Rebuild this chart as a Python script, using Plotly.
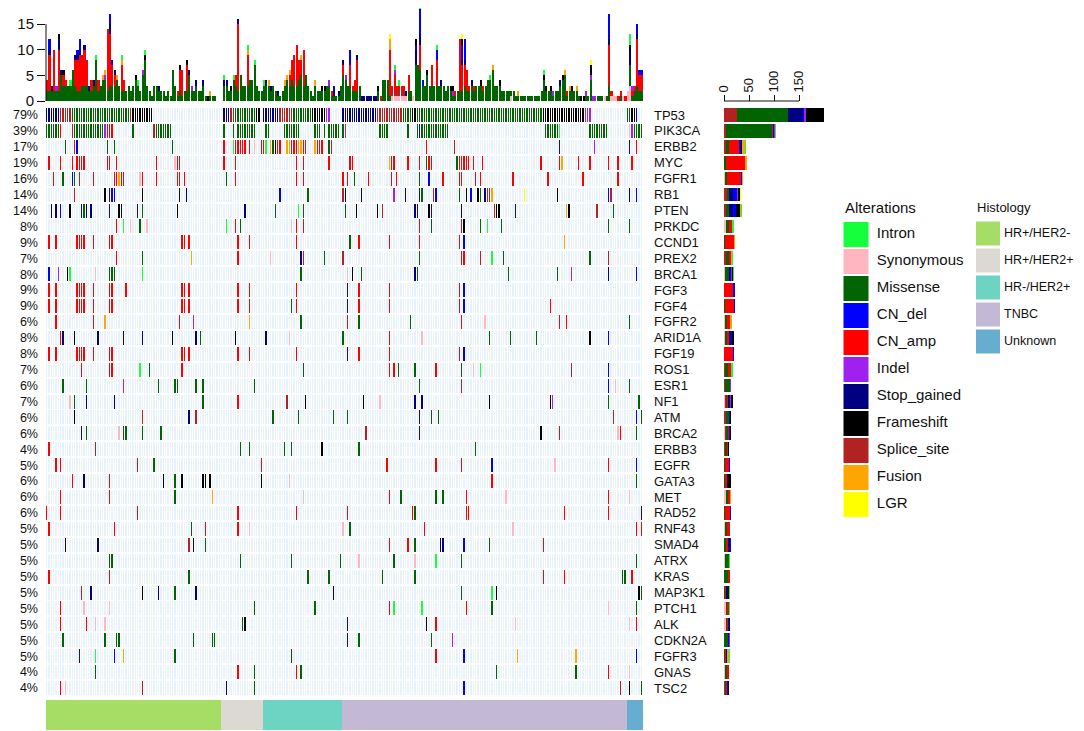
import re
import numpy as np
import plotly.graph_objects as go

# the page puts the figure 8px in from the top-left corner of the 1084x731 window
OFF = 8
W, H = 1084 - OFF, 731 - OFF
N_SAMPLES = 256

# alteration types: code letter, legend name, colour
ALT_CODES = "ISMDANTFPUL"
ALT_NAMES = ["Intron", "Synonymous", "Missense", "CN_del", "CN_amp", "Indel",
             "Stop_gained", "Frameshift", "Splice_site", "Fusion", "LGR"]
ALT_COLORS = ["#14FF3C", "#FFB6C1", "#006400", "#0000FF", "#FF0000", "#A020F0",
              "#000080", "#000000", "#B22222", "#FFA500", "#FFFF00"]
STACK_ORDER = "SPMATDNFUIL"
BG_CELL = "#E8F2FA"

HIST_NAMES = ["HR+/HER2-", "HR+/HER2+", "HR-/HER2+", "TNBC", "Unknown"]
HIST_SIZES = [75, 18, 34, 122, 7]
HIST_COLORS = ["#A6DD64", "#DCD9D3", "#6DD4C3", "#C3B9D7", "#67ADD0"]

GENES = ["TP53", "PIK3CA", "ERBB2", "MYC", "FGFR1", "RB1", "PTEN", "PRKDC", "CCND1",
         "PREX2", "BRCA1", "FGF3", "FGF4", "FGFR2", "ARID1A", "FGF19", "ROS1", "ESR1",
         "NF1", "ATM", "BRCA2", "ERBB3", "EGFR", "GATA3", "MET", "RAD52", "RNF43",
         "SMAD4", "ATRX", "KRAS", "MAP3K1", "PTCH1", "ALK", "CDKN2A", "FGFR3", "GNAS", "TSC2"]
PCT_LABELS = ["79%", "39%", "17%", "19%", "16%", "14%", "14%", "8%", "9%", "7%", "8%",
              "9%", "9%", "6%", "8%", "8%", "7%", "6%", "7%", "6%", "6%", "4%", "5%",
              "6%", "6%", "6%", "5%", "5%", "5%", "5%", "5%", "5%", "5%", "5%", "5%", "4%", "4%"]

# per gene: "sample[-sample]codes" tokens
GENE_ALTS = [
    "0-5T 6-10P 11-35M 36P 37-45F 76-78T 79-80P 81-89M 90-91F 93-99T 100-105P 106-113M "
    "114-119F 120-121N 127-141T 142-152P 153-156M 157-158F 159-212M 213-230F 231-233N "
    "249-250M 251-252F 253D",
    "0-5M 6A 11P 12-24M 25N 26-28A 37M 46P 47-53M 76M 80M 82-89M 94-95M 102-106M 107-108M "
    "115-117M 119M 121-125M 127M 128N 143-146M 155M 159M 160D 161-172M 214-219M 220I "
    "233-240M 250S 251N 252-255M",
    "8M 12P 13D 26M 29M 54M 76A 80I 81-85A 87A 89S 92-93A 94I 96U 97M 98F 99-100A 103-104U "
    "105-107A 108-109U 110-111A 115U 116-118A 121M 122A 163A 175P 220D 235N 250D 253A",
    "1A 6A 11A 13-16A 26-27A 30A 47A 55S 56-57A 76A 81A 107A 110A 121A 130-131A 147U "
    "148-149A 155A 160A 163M 164-165A 176M 177-181A 183A 187A 212A 220A 221U 228A 233A "
    "241A 245A 251A",
    "3A 7M 11D 12M 14A 20A 29-30A 31U 32-33A 40S 41A 47A 56-57A 59A 77M 81A 107A 110A 127A "
    "129A 132M 138A 148A 150A 160M 164D 170A 177-178A 184A 186A 200A 215A 230A 245A",
    "12P 25F 27-29D 41F 57T 60T 100D 112M 127P 128T 135T 149N 154T 160D 161M 166P 167D "
    "177M 180F 182D 185F 186M 188T 189-190P 191U 205L 219F 241D 242P 250T 253D",
    "2T 4T 6D 10F 15D 16M 17T 19T 27D 31F 32T 39D 41M 56F 85T 98M 108I 110M 128M 133F 142F "
    "144P 158T 159D 164F 165D 178T 192P 193-194F 201D 223U 224F 236P 243M",
    "30A 33I 36S 40M 43S 77I 81A 83M 105S 107A 110A 160A 165M 178A 179F 186M 189I 195M 241M 250M",
    "1A 4A 13-16A 20A 27-28A 58-59A 61A 82A 87A 107A 130M 134A 147A 160A 177A 179D 222U",
    "30A 41M 62U 82A 96S 109T 110A 119M 127P 160M 178-179A 186P 191I 196M 233M 241P",
    "1D 5N 9F 10I 21S 27-29M 41I 109M 129S 131F 135M 158T 159M 198M 219M 225N 241T 253D",
    "1A 4A 13-16A 20A 27-28A 34A 58-59A 61A 82A 87A 107A 129D 134A 147A 177A 179D",
    "1A 4A 13-16A 20A 27-28A 58-59A 61A 82A 87A 105M 107A 129D 134A 147A 177A 179D 216A",
    "4A 20A 25U 57A 63N 87U 109M 129A 134M 156M 178A 188S 220A 223A 250M",
    "6A 7T 12F 22T 33T 41T 54F 64T 66M 81F 94T 104S 127M 147A 161S 190M 199M 210M 233F 241D",
    "1A 4A 13-16A 20A 27-28A 58-59A 61A 82A 87A 107A 129D 134A 147A 177A 179D",
    "15A 27-28A 40I 44M 58A 110M 147A 149A 151M 158M 167A 178M 183S 186I 225P 241D",
    "7M 17M 33N 48M 55-56M 64M 67M 89M 160M 178P 241D 244S 250M",
    "10S 12M 17T 29T 67M 82A 103P 111F 136F 143S 158T 161T 190F 216F 217N 241M 254M",
    "12F 41P 61T 64P 97M 108M 123M 129M 160D 165M 168M 243P 253D 255M",
    "15D 17M 31S 33-34M 41M 49M 137P 160D 212F 220A 245S 246A 253M",
    "1A 21P 83M 87M 102M 105M 118F 134M 184M",
    "4A 6A 39A 46M 92A 146A 167A 178A 191D 218S 241A 253D",
    "11A 16T 27A 50F 55M 58F 67-68F 70F 92F 104S 191A 253M",
    "6A 27A 55M 71U 110S 147A 152M 167M 170M 180A 197S 241A 250S",
    "0A 6A 39A 82A 107A 129A 157A 158M 180-181A 222A 241A 255D",
    "1A 29A 62M 68A 82A 87S 127S 130M 162A 200S 253A 255A",
    "8T 22T 61P 63T 68M 147A 155A 158M 169T 170T 179D 190M 213A",
    "27-28M 83M 105M 126M 134S 149M 158S 167I 178M 253M",
    "1A 27A 61M 112M 121M 144M 158M 213A 222A 247-248M 251A",
    "15A 19T 41F 48T 55M 64T 123T 178M 191I 193F 254F 255M",
    "6A 16S 27S 89M 115M 147A 149I 161I 180A 191M 241S 253M",
    "6A 17A 21S 25S 84M 85F 129D 163F 167A 201S 250S 253A",
    "7M 25M 30-31M 63M 71-72M 129D 134M 165M 174N",
    "14D 21I 29D 33U 55M 105M 167A 179D 202U 227U 253D",
    "21M 82A 89M 107A 109M 193M 227M 241A 250S",
    "6A 8S 41P 77T 89M 179D 246P 250F 255M",
]

# per sample: one letter per counted variant (top bar), "-" = none
SAMPLE_VARIANTS = """
MMAA MMAAAAAAATDD MMT MMAAAAAAAA MMN MMAAAAAAAATTF MMMMMT MMMAAF MMMA MMM
MMMI MMMMMM MMMAAAAAT MMAAAAAATD MMAAAAAAATDD MMMAAAAAA MMMAAAAAAAT MMMAAAAA MMT MMAA
MMMT MMMMMMMMI MMAA MMM MMMMU MMMMNU MMAAAAAAAAAAAA MMMAAAAAAAAAATTDD MMMAAAAD MMMAAT
MMMMU MMM MMAAAAAIU MMAA MM MMM MM MMM MMMMF MMMI
MM MMMMMN MMMMMMMMFI MMM MM M MMM MMM MMT MM
MM M MM M MMMMMM MMM MA MMAAAAF MAAAAA MM
MMAAAAAF MMMMMT MMN MM MMMT MM MM MMMT M F
MU M M - - - MMMTI MMMT MM MMF
MMMMI MMMAA MMAAAAAAAAAAAAAT MMMMM MMM MMM MMMAAAAAAUI MMMM MMMM MMMMMMMI
MMM MM MM MMMI MMMT MMMU MMT MMM MM MT
M MM MMMU MMMMU MMMAAU MMMMAAAA MMMAAAAAA MMMAAAAAAAA MMMMAAAA MMMMMAAAU
MMMAAAAAAA MMMMM MMM MM M MMMU MM MM MMF MMF
MMM MMMN MA MDT M MT MMM MMMMMAAT MMMMN MMM
MMMAAAADDD MMA MMAA MMAAAAAAT MMM T T T T T
T T MMF P MMMM MMMM MMMM MAAAAAAAAAUUL SPA SPAAANI
SPA SPAI SPA SPA ST MMAAA MM S MMMMMMMDTTTF MMMMMMM
MMMMMMAAAAATTDDDDDI MMMD MMM MMMMMF MMM MMMAAAA MMM MMMAAAAADDI MMM MMMT
MMM MM MMM MMF MFN MA MM MMAAAAAAAAAA MMAAAAADDDTFL MMMAAAADDDDT
MMAAAA MMA MMMT MMA MMM MMM MMMF MMA MMM MMMM
MMMMI MMMMMMU MMM MMM MMMF MM MM MM MM MS
MM M MU M M M M M M M
M M MM MMMMFI MMF MM MMF MN MM MM
MMMT MMMMF MMMMMU MA MMU MMF MM MMU M F
F MN M MMMMNFFL N N M M M S
M MMMAAAAAAAATDDDDD SA S S A MA S A SS
SSSMMMMTTTFII MAN MMA MMMAAAAAAAAATDD MMAAAD MMAAAD
""".split()
SAMPLE_VARIANTS = [s.replace("-", "") for s in SAMPLE_VARIANTS]
assert len(SAMPLE_VARIANTS) == N_SAMPLES, len(SAMPLE_VARIANTS)


def parse_alts(spec):
    cells = {}
    for tok in spec.split():
        m = re.match(r"(\d+)(?:-(\d+))?([A-Z]+)$", tok)
        a = int(m.group(1))
        b = int(m.group(2) or a)
        for s in range(a, b + 1):
            cells.setdefault(s, []).extend(m.group(3))
    return cells


gene_cells = [parse_alts(s) for s in GENE_ALTS]
code_idx = {c: i + 1 for i, c in enumerate(ALT_CODES)}
n_genes = len(GENES)

# each gene row = top half, bottom half (split cell for 2 hits), white gap
z_rows, y_edges = [], [-0.44]
for g, cells in enumerate(gene_cells):
    top, bot = [], []
    for s in range(N_SAMPLES):
        codes = cells.get(s, [])
        if not codes:
            top.append(0); bot.append(0)
        else:
            top.append(code_idx[codes[0]])
            bot.append(code_idx[codes[-1]])
    z_rows += [top, bot, [np.nan] * N_SAMPLES]
    y_edges += [g, g + 0.44, g + 0.56]


def discrete_scale(colors):
    n = len(colors)
    scale = []
    for i, c in enumerate(colors):
        scale += [[i / n, c], [(i + 1) / n, c]]
    return scale


def px(x):  # window pixel -> paper x
    return (x - OFF) / W


def py(y):  # window pixel -> paper y
    return min(1.0, 1 - (y - OFF) / H)


font = "Liberation Sans, Arial, sans-serif"
fig = go.Figure()

# main oncoprint grid
fig.add_trace(go.Heatmap(
    x=list(range(N_SAMPLES)), y=y_edges, z=z_rows,
    colorscale=discrete_scale([BG_CELL] + ALT_COLORS),
    zmin=-0.5, zmax=len(ALT_CODES) + 0.5, showscale=False,
    xgap=1, hoverinfo="skip", xaxis="x", yaxis="y",
))
# invisible trace so the right-hand gene axis is drawn
fig.add_trace(go.Scatter(x=[0] * n_genes, y=list(range(n_genes)), mode="markers",
                         marker=dict(opacity=0), hoverinfo="skip", showlegend=False,
                         xaxis="x", yaxis="y2"))

# top: variants per sample
for c in STACK_ORDER:
    k = ALT_CODES.index(c)
    fig.add_trace(go.Bar(
        x=list(range(N_SAMPLES)), y=[s.count(c) for s in SAMPLE_VARIANTS],
        marker=dict(color=ALT_COLORS[k], line_width=0), name=ALT_NAMES[k],
        showlegend=False, hoverinfo="skip", xaxis="x2", yaxis="y3",
    ))

# right: variants per gene
for c in STACK_ORDER:
    k = ALT_CODES.index(c)
    counts = [sum(v.count(c) for v in cells.values()) for cells in gene_cells]
    fig.add_trace(go.Bar(
        y=list(range(n_genes)), x=counts, orientation="h", width=0.86,
        marker=dict(color=ALT_COLORS[k], line_width=0), name=ALT_NAMES[k],
        showlegend=False, hoverinfo="skip", xaxis="x3", yaxis="y4",
    ))

# bottom: histology of each sample
hist_of_sample = np.repeat(np.arange(len(HIST_SIZES)), HIST_SIZES)
fig.add_trace(go.Heatmap(
    x=list(range(N_SAMPLES)), y=[0], z=[hist_of_sample.tolist()],
    colorscale=discrete_scale(HIST_COLORS), zmin=-0.5, zmax=len(HIST_COLORS) - 0.5,
    showscale=False, hoverinfo="skip", xaxis="x4", yaxis="y5",
))

# legend boxes (window pixel coordinates inside the legend area)
fig.add_trace(go.Scatter(
    x=[856] * len(ALT_NAMES), y=[234.5 + 27 * i for i in range(len(ALT_NAMES))],
    mode="markers+text", text=[" " + t for t in ALT_NAMES], textposition="middle right",
    marker=dict(symbol="square", size=25, color=ALT_COLORS, line=dict(width=0)),
    textfont=dict(size=15, color="#111", family=font),
    hoverinfo="skip", showlegend=False, xaxis="x5", yaxis="y6", cliponaxis=False,
))
fig.add_trace(go.Scatter(
    x=[988] * len(HIST_NAMES), y=[233.5 + 27 * i for i in range(len(HIST_NAMES))],
    mode="markers+text", text=HIST_NAMES, textposition="middle right",
    marker=dict(symbol="square", size=24, color=HIST_COLORS, line=dict(width=0)),
    textfont=dict(size=12.5, color="#111", family=font),
    hoverinfo="skip", showlegend=False, xaxis="x5", yaxis="y6", cliponaxis=False,
))

grid_x = [px(46), px(643)]
grid_y = [py(696), py(107)]
xr = [-0.5, N_SAMPLES - 0.5]
yr = [n_genes - 0.5, -0.5]
hid = dict(visible=False, showgrid=False, zeroline=False, automargin=False)
top_axis_y = py(101)
bar_top = 8  # window y of top edge of the figure
top_range = (101 - bar_top) / 5.13

fig.update_layout(
    width=W, height=H, margin=dict(l=0, r=0, t=0, b=0, autoexpand=False),
    paper_bgcolor="white", plot_bgcolor="white",
    font=dict(family=font, color="#111"),
    barmode="stack", bargap=0.12,
    xaxis=dict(domain=grid_x, range=xr, anchor="y", **hid),
    yaxis=dict(domain=grid_y, range=yr, anchor="x", tickmode="array",
               tickvals=list(range(n_genes)), ticktext=PCT_LABELS, ticks="",
               showgrid=False, zeroline=False, showline=False, automargin=False,
               ticklabelstandoff=7, tickfont=dict(size=12.5)),
    yaxis2=dict(overlaying="y", side="right", anchor="x", range=yr, tickmode="array",
                tickvals=list(range(n_genes)), ticktext=GENES, ticks="",
                showgrid=False, zeroline=False, showline=False, automargin=False,
                ticklabelstandoff=10, tickfont=dict(size=13)),
    xaxis2=dict(domain=grid_x, range=xr, anchor="y3", **hid),
    yaxis3=dict(domain=[top_axis_y, 1.0], range=[0, top_range], anchor="x2",
                tickvals=[0, 5, 10, 15], ticks="outside", ticklen=8, tickcolor="#111",
                showgrid=False, zeroline=False, showline=False, automargin=False,
                tickfont=dict(size=15)),
    xaxis3=dict(domain=[px(724), px(824)], range=[0, 200], anchor="free",
                position=top_axis_y, side="top", tickvals=[0, 50, 100, 150],
                ticks="outside", ticklen=6, tickcolor="#111", tickangle=-90,
                showgrid=False, zeroline=False, showline=False, automargin=False,
                tickfont=dict(size=13)),
    yaxis4=dict(domain=grid_y, range=yr, anchor="x3", **hid),
    xaxis4=dict(domain=grid_x, range=xr, anchor="y5", **hid),
    yaxis5=dict(domain=[py(730), py(700)], range=[-0.5, 0.5], anchor="x4", **hid),
    xaxis5=dict(domain=[px(820), 1.0], range=[820, 1084], anchor="y6", **hid),
    yaxis6=dict(domain=[py(540), py(190)], range=[540, 190], anchor="x5", **hid),
    shapes=[
        dict(type="line", xref="x2 domain", yref="y3", x0=0, x1=0, y0=0, y1=15,
             line=dict(color="#111", width=1)),
        dict(type="line", xref="x3", yref="paper", x0=0, x1=150,
             y0=top_axis_y, y1=top_axis_y, line=dict(color="#111", width=1)),
    ],
    annotations=[
        dict(text="Alterations", x=843, y=207, xref="x5", yref="y6", xanchor="left",
             yanchor="middle", showarrow=False, font=dict(size=15)),
        dict(text="Histology", x=975, y=207, xref="x5", yref="y6", xanchor="left",
             yanchor="middle", showarrow=False, font=dict(size=13)),
    ],
)

fig.write_html("out.html")
